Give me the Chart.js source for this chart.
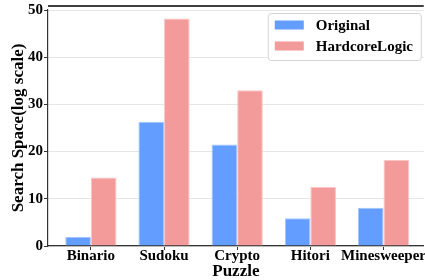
<!DOCTYPE html>
<html>
<head>
<meta charset="utf-8">
<script src="https://cdn.jsdelivr.net/npm/chart.js@4"></script>
<style>
  html, body { margin: 0; padding: 0; background: #fff; }
  #wrap { width: 425px; height: 280px; }
</style>
</head>
<body>
<div id="wrap"><canvas id="chart1"></canvas></div>
<script>
  const puzzles = ['Binario', 'Sudoku', 'Crypto', 'Hitori', 'Minesweeper'];
  const original = [1.9, 26.3, 21.5, 5.9, 8.1];
  const hardcore = [14.5, 48.2, 33.0, 12.5, 18.2];
  const yTicks = [0, 10, 20, 30, 40, 50];

  const serif = 'Liberation Serif';
  const azul = '#629dff';
  const rosa = '#f39a9a';

  // legend box inside the plot + the dark line above it
  const extras = {
    id: 'extras',
    afterDraw(chart) {
      const c = chart.ctx;
      const area = chart.chartArea;
      c.save();
      c.strokeStyle = '#000';
      c.lineWidth = 1.5;
      c.beginPath();
      c.moveTo(area.left, area.top - 4);
      c.lineTo(area.right, area.top - 4);
      c.stroke();

      const bx = area.right - 155.5, by = area.top + 3.5, bw = 153, bh = 47;
      c.fillStyle = 'rgba(255,255,255,0.85)';
      c.strokeStyle = '#d4d4d4';
      c.lineWidth = 1;
      c.beginPath();
      c.roundRect(bx, by, bw, bh, 3);
      c.fill();
      c.stroke();

      c.font = 'bold 15px "' + serif + '"';
      c.textBaseline = 'middle';
      chart.data.datasets.forEach((ds, i) => {
        const rowY = by + 11.5 + i * 21;
        c.fillStyle = ds.backgroundColor;
        c.fillRect(bx + 6.5, rowY - 4.5, 29, 9);
        c.fillStyle = '#000';
        c.fillText(ds.label, bx + 47.5, rowY + 1);
      });
      c.restore();
    }
  };

  new Chart(document.getElementById('chart1').getContext('2d'), {
    type: 'bar',
    data: {
      datasets: [{
        label: 'Original',
        backgroundColor: azul,
        borderColor: '#a3c5ff',
        borderWidth: 1,
        data: original.map((v, i) => ({ x: i, y: v }))
      }, {
        label: 'HardcoreLogic',
        backgroundColor: rosa,
        borderColor: '#f8c4c4',
        borderWidth: 1,
        data: hardcore.map((v, i) => ({ x: i, y: v }))
      }]
    },
    options: {
      responsive: true,
      maintainAspectRatio: false,
      animation: false,
      layout: { padding: { top: 10, left: 0, right: 0, bottom: 0 } },
      plugins: {
        legend: { display: false },
        tooltip: { enabled: false }
      },
      datasets: {
        bar: { categoryPercentage: 0.7, barPercentage: 1.0 }
      },
      scales: {
        x: {
          type: 'linear',
          offset: false,
          min: -0.586,
          max: 4.55,
          afterBuildTicks: axis => { axis.ticks = puzzles.map((p, i) => ({ value: i })); },
          afterFit: axis => { axis.height = 34; },
          ticks: {
            callback: v => puzzles[v],
            color: '#000',
            padding: -1,
            maxRotation: 0,
            autoSkip: false,
            font: { family: serif, size: 15, weight: 'bold', lineHeight: 1 }
          },
          grid: { drawOnChartArea: false, offset: false, tickLength: 4, tickColor: '#333' },
          border: { color: '#333', width: 1.2 },
          title: {
            display: true,
            text: 'Puzzle',
            color: '#000',
            padding: { top: 0, bottom: 0 },
            font: { family: serif, size: 17, weight: 'bold', lineHeight: 1 }
          }
        },
        y: {
          min: 0,
          max: 50,
          afterBuildTicks: axis => { axis.ticks = yTicks.map(v => ({ value: v })); },
          afterFit: axis => { axis.width = 48; },
          ticks: {
            color: '#000',
            padding: 1,
            font: { family: serif, size: 15, weight: 'bold' }
          },
          grid: { color: '#e6e6e6', tickLength: 4, tickColor: '#333' },
          border: { color: '#333', width: 1.2 },
          title: {
            display: true,
            text: 'Search Space(log scale)',
            color: '#000',
            padding: { top: 8, bottom: 0 },
            font: { family: serif, size: 17, weight: 'bold' }
          }
        }
      }
    },
    plugins: [extras]
  });
</script>
</body>
</html>
